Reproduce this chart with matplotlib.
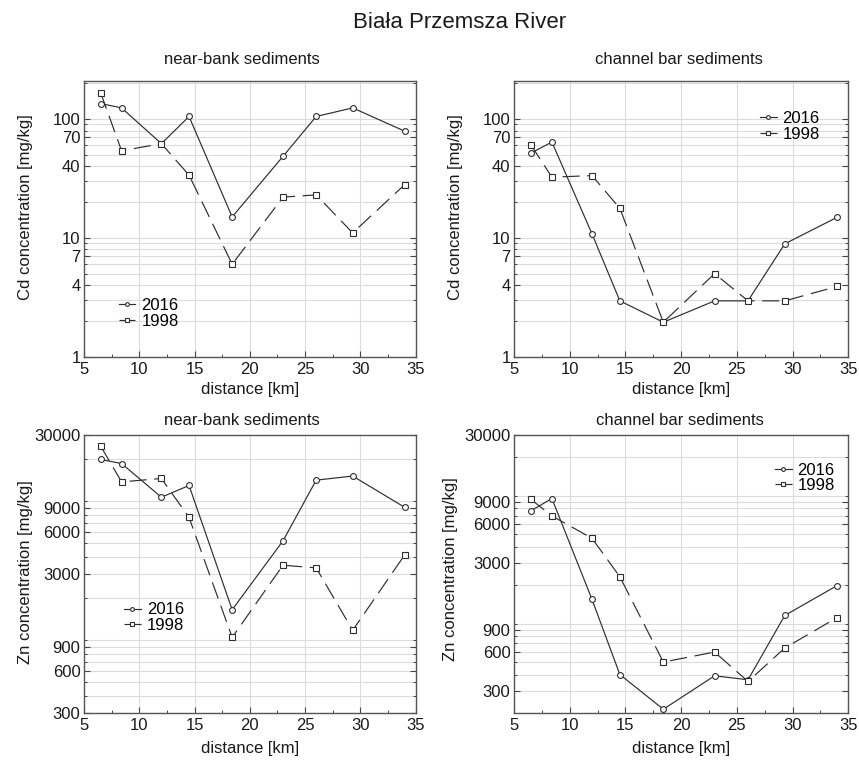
import numpy as np
import matplotlib
matplotlib.use("Agg")
import matplotlib.pyplot as plt
from matplotlib.ticker import FixedLocator, NullFormatter, FixedFormatter, MultipleLocator

plt.rcParams['font.family'] = ['Liberation Sans', 'DejaVu Sans']

# ---- data ----
distance = [6.5, 8.4, 12.0, 14.5, 18.4, 23.0, 26.0, 29.3, 34.0]

cd_nearbank_2016 = [135, 124, 62, 105, 15, 48.5, 105, 124, 79]
cd_nearbank_1998 = [167, 54, 62, 33.7, 6.0, 22, 23, 11, 28]

cd_channel_2016 = [51.5, 64, 10.8, 2.95, 1.95, 2.95, 2.95, 8.9, 14.9]
cd_channel_1998 = [61, 32.4, 33.4, 17.7, 1.95, 5.0, 2.95, 2.95, 3.9]

zn_nearbank_2016 = [20000, 18700, 10700, 13000, 1660, 5200, 14200, 15200, 9060]
zn_nearbank_1998 = [25000, 13800, 14600, 7660, 1050, 3470, 3320, 1180, 4110]

zn_channel_2016 = [7640, 9550, 1550, 400, 214, 391, 364, 1160, 1990]
zn_channel_1998 = [9420, 6980, 4660, 2330, 501, 600, 353, 645, 1117]

series_labels = ['2016', '1998']
panel_titles = ['near-bank sediments', 'channel bar sediments']
main_title = 'Biała Przemsza River'
cd_ylabel = 'Cd concentration [mg/kg]'
zn_ylabel = 'Zn concentration [mg/kg]'
xlabel = 'distance [km]'
cd_ticks = [1, 4, 7, 10, 40, 70, 100]
zn_ticks = [300, 600, 900, 3000, 6000, 9000, 30000]

W, H = 859, 760
fig = plt.figure(figsize=(W / 100, H / 100), dpi=100)

def px_axes(l, r, t, b):
    return fig.add_axes([l / W, 1 - b / H, (r - l) / W, (b - t) / H])

LC = '#2e2e2e'
GC = '#dcdcdc'

def minor_positions(lo, hi):
    out = []
    for e in range(-1, 6):
        for m in range(1, 10):
            v = m * 10 ** e
            if lo <= v <= hi:
                out.append(v)
    return out

def style(ax, ylim, ticks, ylabel, ylab_x, ylab_y, xlab_y):
    ax.set_yscale('log')
    ax.set_xlim(5, 35)
    ax.set_ylim(*ylim)
    ax.xaxis.set_major_locator(MultipleLocator(5))
    ax.xaxis.set_minor_locator(MultipleLocator(2.5))
    ax.yaxis.set_major_locator(FixedLocator(ticks))
    ax.yaxis.set_major_formatter(FixedFormatter([str(t) for t in ticks]))
    ax.yaxis.set_minor_locator(FixedLocator(minor_positions(*ylim)))
    ax.yaxis.set_minor_formatter(NullFormatter())
    ax.grid(which='both', axis='y', color=GC, lw=0.8, zorder=0)
    ax.grid(which='major', axis='x', color=GC, lw=0.8, zorder=0)
    ax.set_axisbelow(True)
    ax.tick_params(which='both', direction='in', right=True, top=False,
                   colors='#444444', labelcolor='#1a1a1a', labelsize=12)
    ax.tick_params(which='major', length=4, width=0.8)
    ax.tick_params(which='minor', length=2.5, width=0.7)
    ax.tick_params(axis='y', pad=2.5)
    ax.tick_params(axis='x', pad=3.5)
    for s in ax.spines.values():
        s.set_color('#555555')
        s.set_linewidth(1.0)
    ax.set_ylabel(ylabel, fontsize=12, color='#1a1a1a')
    ax.yaxis.set_label_coords(ylab_x, ylab_y)
    ax.set_xlabel(xlabel, fontsize=12, color='#1a1a1a')
    ax.xaxis.set_label_coords(0.5, xlab_y)

def plot_pair(ax, y2016, y1998, leg_anchor):
    ax.plot(distance, y2016, '-', color=LC, lw=0.85, marker='o', ms=4.2,
            mfc='white', mec=LC, mew=0.8, label=series_labels[0], zorder=3)
    ax.plot(distance, y1998, color=LC, lw=0.85, dashes=(14.5, 6.5), marker='s', ms=4.2,
            mfc='white', mec=LC, mew=0.8, label=series_labels[1], zorder=3)
    ax.legend(loc='upper left', bbox_to_anchor=leg_anchor, frameon=False,
              fontsize=12, handlelength=1.0, handletextpad=0.35,
              labelspacing=0.03, borderpad=0, borderaxespad=0, markerscale=0.65)

# top-left
ax1 = px_axes(84, 415.7, 80.7, 356.7)
plot_pair(ax1, cd_nearbank_2016, cd_nearbank_1998, (0.105, 0.212))
style(ax1, (1, 210), cd_ticks, cd_ylabel, -0.154, 0.543, -0.09)

# top-right
ax2 = px_axes(514, 848.3, 80.7, 356.7)
plot_pair(ax2, cd_channel_2016, cd_channel_1998, (0.736, 0.89))
style(ax2, (1, 210), cd_ticks, cd_ylabel, -0.153, 0.543, -0.09)

# bottom-left
ax3 = px_axes(84, 415.7, 435, 713)
plot_pair(ax3, zn_nearbank_2016, zn_nearbank_1998, (0.121, 0.398))
style(ax3, (300, 30000), zn_ticks, zn_ylabel, -0.154, 0.508, -0.10)

# bottom-right
ax4 = px_axes(514, 848.3, 435, 713)
plot_pair(ax4, zn_channel_2016, zn_channel_1998, (0.781, 0.90))
style(ax4, (200, 30000), zn_ticks, zn_ylabel, -0.168, 0.519, -0.10)

# titles
fig.text(460 / W, 1 - 22.5 / H, main_title, ha='center', va='center',
         fontsize=16, color='#1a1a1a')
fig.text(241.5 / W, 1 - 63.5 / H, panel_titles[0], ha='center', va='baseline',
         fontsize=12, color='#1a1a1a')
fig.text(679 / W, 1 - 63.5 / H, panel_titles[1], ha='center', va='baseline',
         fontsize=12, color='#1a1a1a')
fig.text(241.5 / W, 1 - 425 / H, panel_titles[0], ha='center', va='baseline',
         fontsize=12, color='#1a1a1a')
fig.text(680 / W, 1 - 425 / H, panel_titles[1], ha='center', va='baseline',
         fontsize=12, color='#1a1a1a')

fig.savefig('out.png', dpi=100, facecolor='white')
